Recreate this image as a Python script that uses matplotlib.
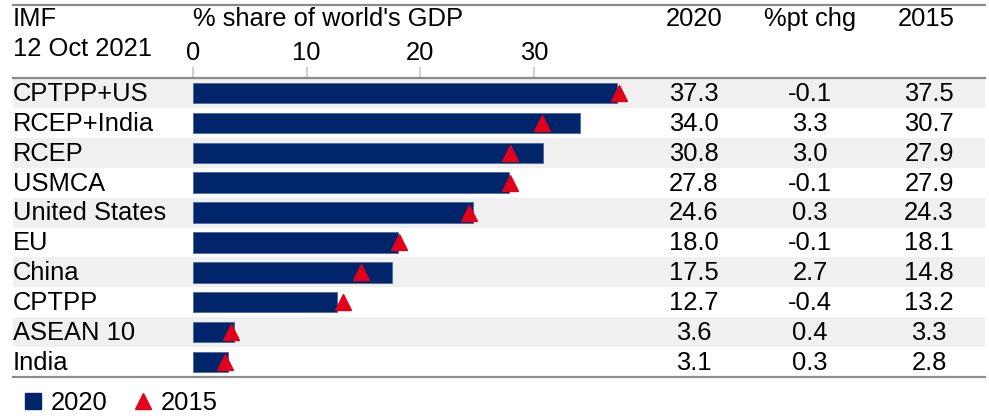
import matplotlib.pyplot as plt
from matplotlib.lines import Line2D
import matplotlib.transforms as mtransforms

# 数据
groups = ["CPTPP+US", "RCEP+India", "RCEP", "USMCA", "United States",
          "EU", "China", "CPTPP", "ASEAN 10", "India"]
share_2020 = [37.3, 34.0, 30.8, 27.8, 24.6, 18.0, 17.5, 12.7, 3.6, 3.1]
pt_chg = ["-0.1", "3.3", "3.0", "-0.1", "0.3", "-0.1", "2.7", "-0.4", "0.4", "0.3"]
share_2015 = [37.5, 30.7, 27.9, 27.9, 24.3, 18.1, 14.8, 13.2, 3.3, 2.8]
xticks = [0, 10, 20, 30]

NAVY = "#00256b"
RED = "#e2001a"
GRID = "#8c8c8c"
SHADE = "#f0f0f0"

plt.rcParams['font.family'] = ['Liberation Sans', 'DejaVu Sans']
FS = 18.4

W, H = 989, 416
fig = plt.figure(figsize=(W / 100, H / 100), dpi=100)

# 坐标轴：像素位置
left_px, right_px = 13, 985
top_px, bot_px = 78, 377
ax = fig.add_axes([left_px / W, 1 - bot_px / H,
                   (right_px - left_px) / W, (bot_px - top_px) / H])

zero_px, px_per_unit = 193, 11.37
ax.set_xlim((left_px - zero_px) / px_per_unit, (right_px - zero_px) / px_per_unit)
n = len(groups)
ax.set_ylim(n - 0.5, -0.5)

# 交替底色
for i in range(n):
    if i % 2 == 0:
        ax.axhspan(i - 0.5, i + 0.5, color=SHADE, lw=0, zorder=0)

ys = list(range(n))
ax.barh(ys, share_2020, height=0.68, color=NAVY, edgecolor="#4a6aa0",
        linewidth=0.6, zorder=2)
ax.plot(share_2015, ys, linestyle="none", marker="^", color=RED,
        markersize=11, zorder=3)

# 刻度在顶部
ax.xaxis.tick_top()
ax.set_xticks(xticks)
ax.set_xticklabels([str(t) for t in xticks], fontsize=FS)
ax.tick_params(axis="x", length=8, width=1.2, color="#c8c8c8", pad=1)
ax.set_yticks([])
for s in ["left", "right"]:
    ax.spines[s].set_visible(False)
for s in ["top", "bottom"]:
    ax.spines[s].set_color(GRID)
    ax.spines[s].set_linewidth(1.6)

# 表格文字
trans = mtransforms.blended_transform_factory(fig.transFigure, ax.transData)
for i, g in enumerate(groups):
    ax.text(left_px / W, i + 0.03, g, transform=trans, fontsize=FS, va="center", ha="left")
    ax.text(694 / W, i + 0.03, f"{share_2020[i]:.1f}", transform=trans, fontsize=FS,
            va="center", ha="center")
    ax.text(810 / W, i + 0.03, pt_chg[i], transform=trans, fontsize=FS,
            va="center", ha="center")
    ax.text(929 / W, i + 0.03, f"{share_2015[i]:.1f}", transform=trans, fontsize=FS,
            va="center", ha="center")

# 表头
def fy(px):
    return 1 - px / H

fig.text(left_px / W, fy(19), "IMF", fontsize=FS, va="center", ha="left")
fig.text(left_px / W, fy(49), "12 Oct 2021", fontsize=FS, va="center", ha="left")
fig.text(zero_px / W, fy(19), "% share of world's GDP", fontsize=FS, va="center", ha="left")
fig.text(694 / W, fy(19), "2020", fontsize=FS, va="center", ha="center")
fig.text(810 / W, fy(19), "%pt chg", fontsize=FS, va="center", ha="center")
fig.text(926 / W, fy(19), "2015", fontsize=FS, va="center", ha="center")

# 顶部横线
fig.add_artist(Line2D([left_px / W, right_px / W], [fy(5), fy(5)],
                      transform=fig.transFigure, color=GRID, lw=1.6))

# 图例
handles = [Line2D([], [], linestyle="none", marker="s", color=NAVY, markersize=11),
           Line2D([], [], linestyle="none", marker="^", color=RED, markersize=11)]
fig.legend(handles, ["2020", "2015"], loc="center left",
           bbox_to_anchor=(20 / W, fy(403)), ncol=2, frameon=False,
           fontsize=FS, handlelength=1.0, handletextpad=0.2,
           columnspacing=0.9, borderpad=0, borderaxespad=0)

fig.savefig("out.png", dpi=100)
